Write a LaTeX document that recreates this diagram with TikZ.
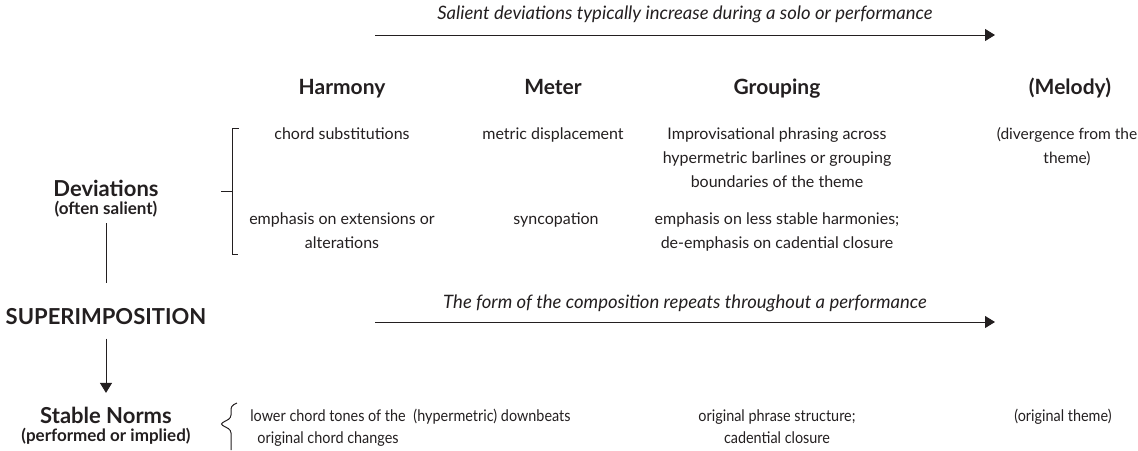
\documentclass[tikz,border=0pt]{standalone}
\usepackage{fontspec}
\setmainfont{Lato}
\newfontfamily\narrowfont[FakeStretch=0.9]{Lato}
\usetikzlibrary{arrows.meta}
\definecolor{ink}{HTML}{231F20}
\newcommand\sidesub{\fontsize{17}{18}\selectfont}

\begin{document}
\begin{tikzpicture}[x=1pt, y=-1pt, ink, text=ink, line width=1pt,
    >={Triangle[length=10pt,width=12pt]},
    note/.style={font=\itshape\fontsize{18.5}{20}\selectfont},
    head/.style={anchor=base, font=\bfseries\fontsize{21}{24}\selectfont},
    cell/.style={align=center, anchor=north, inner sep=0pt, font=\fontsize{16}{24}\selectfont},
    norm/.style={cell, font=\narrowfont\fontsize{16}{22}\selectfont},
    side/.style={align=center, inner sep=5pt, font=\bfseries\fontsize{22}{18}\selectfont}]
    \useasboundingbox (0,0) rectangle (1138,450);
    % time lines
    \coordinate (ta) at (375,35);
    \coordinate (tb) at (995,35);
    \coordinate (fa) at (375,322);
    \coordinate (fb) at (995,322);
    \draw [->] (ta) -- (tb);
    \draw [->] (fa) -- (fb);
    \node [note] (trend) at (685,14) {Salient deviations typically increase during a solo or performance};
    \node [note] (form) at (685,303) {The form of the composition repeats throughout a performance};
    % column heads
    \node [head] (harmony) at (342,94) {Harmony};
    \node [head] (meter) at (553,94) {Meter};
    \node [head] (grouping) at (777,94) {Grouping};
    \node [head] (melody) at (1070,94) {(Melody)};
    % deviations
    \node [cell] (harmA) at (342,127) {chord substitutions};
    \node [cell] (meterA) at (553,127) {metric displacement};
    \node [cell] (groupA) at (777,127) {Improvisational phrasing across\\hypermetric barlines or grouping\\boundaries of the theme};
    \node [cell, font=\fontsize{15.5}{24}\selectfont] (melA) at (1067,127) {(divergence from the\\theme)};
    \node [cell] (harmB) at (342,212) {emphasis on extensions or\\alterations};
    \node [cell] (meterB) at (556,212) {syncopation};
    \node [cell] (groupB) at (777,212) {emphasis on less stable harmonies;\\de-emphasis on cadential closure};
    % stable norms
    \node [norm] (harmN) at (328,409) {lower chord tones of the\\original chord changes};
    \node [norm] (meterN) at (492,409) {(hypermetric) downbeats};
    \node [norm] (groupN) at (777,409) {original phrase structure;\\cadential closure};
    \node [norm] (melN) at (1063,409) {(original theme)};
    % left side
    \node [side] (dev) at (106,199) {Deviations\\{\sidesub (often salient)}};
    \node [side] (sup) at (106,317) {SUPERIMPOSITION};
    \node [side] (stab) at (106,426) {Stable Norms\\{\sidesub (performed or implied)}};
    \draw [shorten >=20pt] (dev) -- (sup);
    \draw [->, shorten <=8pt, shorten >=9pt] (sup) -- (stab);
    % brackets
    \draw (239,128) -- (232,128) -- (232,254) -- (238,254);
    \draw (221,191) -- (232,191);
    \draw [rounded corners=3pt] (237,403) -- (231,406) -- (231,418) -- (220,424) -- (231,430) -- (231,450);
\end{tikzpicture}
\end{document}
